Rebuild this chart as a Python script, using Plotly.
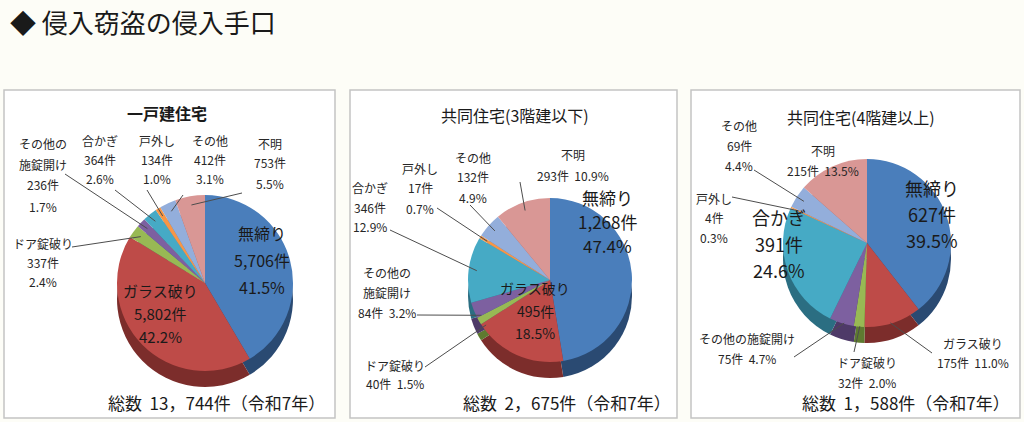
from math import sin, cos, radians

import plotly.graph_objects as go

W, H = 1024, 422

# data
methods = ["無締り", "ガラス破り", "ドア錠破り", "その他の施錠開け", "合かぎ", "戸外し", "その他", "不明"]
titles = ["<b>一戸建住宅</b>", "共同住宅(3階建以下)", "共同住宅(4階建以上)"]
counts_house = [5706, 5802, 337, 236, 364, 134, 412, 753]
counts_low = [1268, 495, 40, 84, 346, 17, 132, 293]
counts_high = [627, 175, 32, 75, 391, 4, 69, 215]
pct_house = ["41.5%", "42.2%", "2.4%", "1.7%", "2.6%", "1.0%", "3.1%", "5.5%"]
pct_low = ["47.4%", "18.5%", "1.5%", "3.2%", "12.9%", "0.7%", "4.9%", "10.9%"]
pct_high = ["39.5%", "11.0%", "2.0%", "4.7%", "24.6%", "0.3%", "4.4%", "13.5%"]
totals = [13744, 2675, 1588]
year = "令和7年"

top_colors = ["#4A7EBB", "#BE4B48", "#98B954", "#7D60A0", "#46AAC5", "#F79646", "#93AEDB", "#D99795"]
side_colors = ["#2A4A72", "#7C2D2B", "#5E7A30", "#4E3A68", "#2B6E82", "#B0662A", "#5F7DAA", "#A26361"]

FONT = "Noto Sans CJK JP"
BG = "#fdfdf7"

# layout per panel, in page pixels.
# labels: slice -> (x, first line y, line pitch, font size, style, wrap name, leader start)
panels = [
    dict(box=(4, 90, 335, 418), title=(167, 113), cx=205, cy=283, r=88, depth=16, total=(216, 402),
         labels={0: (262, 233, 27, 16, "stack", False, None),
                 1: (160, 290, 23, 15, "stack", False, None),
                 2: (43, 243, 19, 12, "stack", False, (72, 247)),
                 3: (43, 143, 21, 12, "stack", True, (65, 174)),
                 4: (100, 140, 19, 12, "stack", False, (115, 190)),
                 5: (157, 140, 19, 12, "stack", False, (147, 190)),
                 6: (210, 140, 19, 12, "stack", False, (183, 195)),
                 7: (270, 143, 20, 12, "stack", False, (242, 193))}),
    dict(box=(350, 90, 677, 418), title=(515, 115), cx=550, cy=280, r=82, depth=16, total=(567, 402),
         labels={0: (607, 197, 24, 17, "stack", False, None),
                 1: (535, 288, 22.5, 14, "stack", False, None),
                 2: (395, 365, 18, 12, "pair", False, (425, 367)),
                 3: (387, 272, 20, 12, "pair", True, (417, 315)),
                 4: (370, 187, 20, 12, "stack", False, (390, 230)),
                 5: (420, 168, 20, 12, "stack", False, (437, 208)),
                 6: (473, 157, 20, 12, "stack", False, (470, 205)),
                 7: (573, 155, 20, 12, "pair", False, (520, 182))}),
    dict(box=(691, 90, 1020, 418), title=(861, 117), cx=867, cy=243, r=84, depth=16, total=(906, 402),
         labels={0: (932, 188, 26, 18, "stack", False, None),
                 4: (779, 217, 26.5, 18, "stack", False, None),
                 7: (823, 150, 20, 12, "pair", False, None),
                 6: (739, 125, 20, 12, "stack", False, (754, 170)),
                 5: (714, 198, 19.5, 12, "stack", False, (732, 197)),
                 3: (747, 338, 20, 12, "pair", False, (794, 357)),
                 2: (867, 362, 20, 12, "pair", False, (854, 352)),
                 1: (973, 343, 19, 12, "pair", False, (932, 353))}),
]

counts_all = [counts_house, counts_low, counts_high]
pcts_all = [pct_house, pct_low, pct_high]


def px(x):
    return x / W


def py(y):
    return 1 - y / H


def text_at(x, y, txt, size, color="#1a1a1a"):
    return dict(x=px(x), y=py(y), xref="paper", yref="paper", xanchor="center", yanchor="middle",
                text=txt, showarrow=False, font=dict(family=FONT, size=size, color=color))


fig = go.Figure()
shapes = []
annotations = [dict(x=px(8), y=py(22), xref="paper", yref="paper", xanchor="left", yanchor="middle",
                    text="◆ 侵入窃盗の侵入手口", showarrow=False,
                    font=dict(family=FONT, size=26, color="#1a1a1a"))]

for p, title, counts, pcts, total in zip(panels, titles, counts_all, pcts_all, totals):
    x0, y0, x1, y1 = p["box"]
    shapes.append(dict(type="rect", xref="paper", yref="paper", x0=px(x0), x1=px(x1), y0=py(y1), y1=py(y0),
                       line=dict(color="#c4c4c4", width=1.5), fillcolor="white", layer="below"))
    cx, cy, r, d = p["cx"], p["cy"], p["r"], p["depth"]

    # darker copy underneath gives the pie some depth
    fig.add_trace(go.Pie(labels=methods, values=counts, sort=False, direction="clockwise", rotation=0,
                         marker=dict(colors=side_colors), textinfo="none", hoverinfo="skip",
                         domain=dict(x=[px(cx - r), px(cx + r)], y=[py(cy + r + d), py(cy - r + d)])))
    fig.add_trace(go.Pie(labels=methods, values=counts, customdata=pcts, sort=False,
                         direction="clockwise", rotation=0, marker=dict(colors=top_colors),
                         textinfo="none", hovertemplate="%{label}<br>%{value:,}件<br>%{customdata}<extra></extra>",
                         domain=dict(x=[px(cx - r), px(cx + r)], y=[py(cy + r), py(cy - r)])))

    annotations.append(text_at(*p["title"], title, 16))
    total_txt = f"総数\u00a0\u00a0{total:,}件（{year}）".replace(",", "，")
    annotations.append(text_at(*p["total"], total_txt, 17))

    whole = sum(counts)
    for i, (lx, ly, pitch, size, style, wrap, lead) in p["labels"].items():
        name = methods[i]
        if wrap:
            k = name.index("施")
            name_lines = [name[:k], name[k:]]
        else:
            name_lines = [name]
        if style == "stack":
            lines = name_lines + [f"{counts[i]:,}件", pcts[i]]
        else:
            lines = name_lines + [f"{counts[i]:,}件  {pcts[i]}"]
        color = "#1a1a1a" if size > 12 else "#262626"
        for j, line in enumerate(lines):
            annotations.append(text_at(lx, ly + j * pitch, line, size, color))
        if lead:
            mid = radians((sum(counts[:i]) + counts[i] / 2) / whole * 360)
            tx = cx + 0.9 * r * sin(mid)
            ty = cy - 0.9 * r * cos(mid)
            if cos(mid) < 0:
                ty += d * 0.5
            shapes.append(dict(type="line", xref="paper", yref="paper", x0=px(lead[0]), y0=py(lead[1]),
                               x1=px(tx), y1=py(ty), line=dict(color="#4d4d4d", width=1)))

fig.update_layout(width=W, height=H, autosize=False, margin=dict(l=0, r=0, t=0, b=0),
                  paper_bgcolor=BG, plot_bgcolor=BG, showlegend=False,
                  shapes=shapes, annotations=annotations, font=dict(family=FONT))

# drop the browser's default body margin so the figure fills the window
fig.write_html("out.html", config={"displayModeBar": False},
               post_script=f"document.body.style.margin='0';document.body.style.background='{BG}';")
